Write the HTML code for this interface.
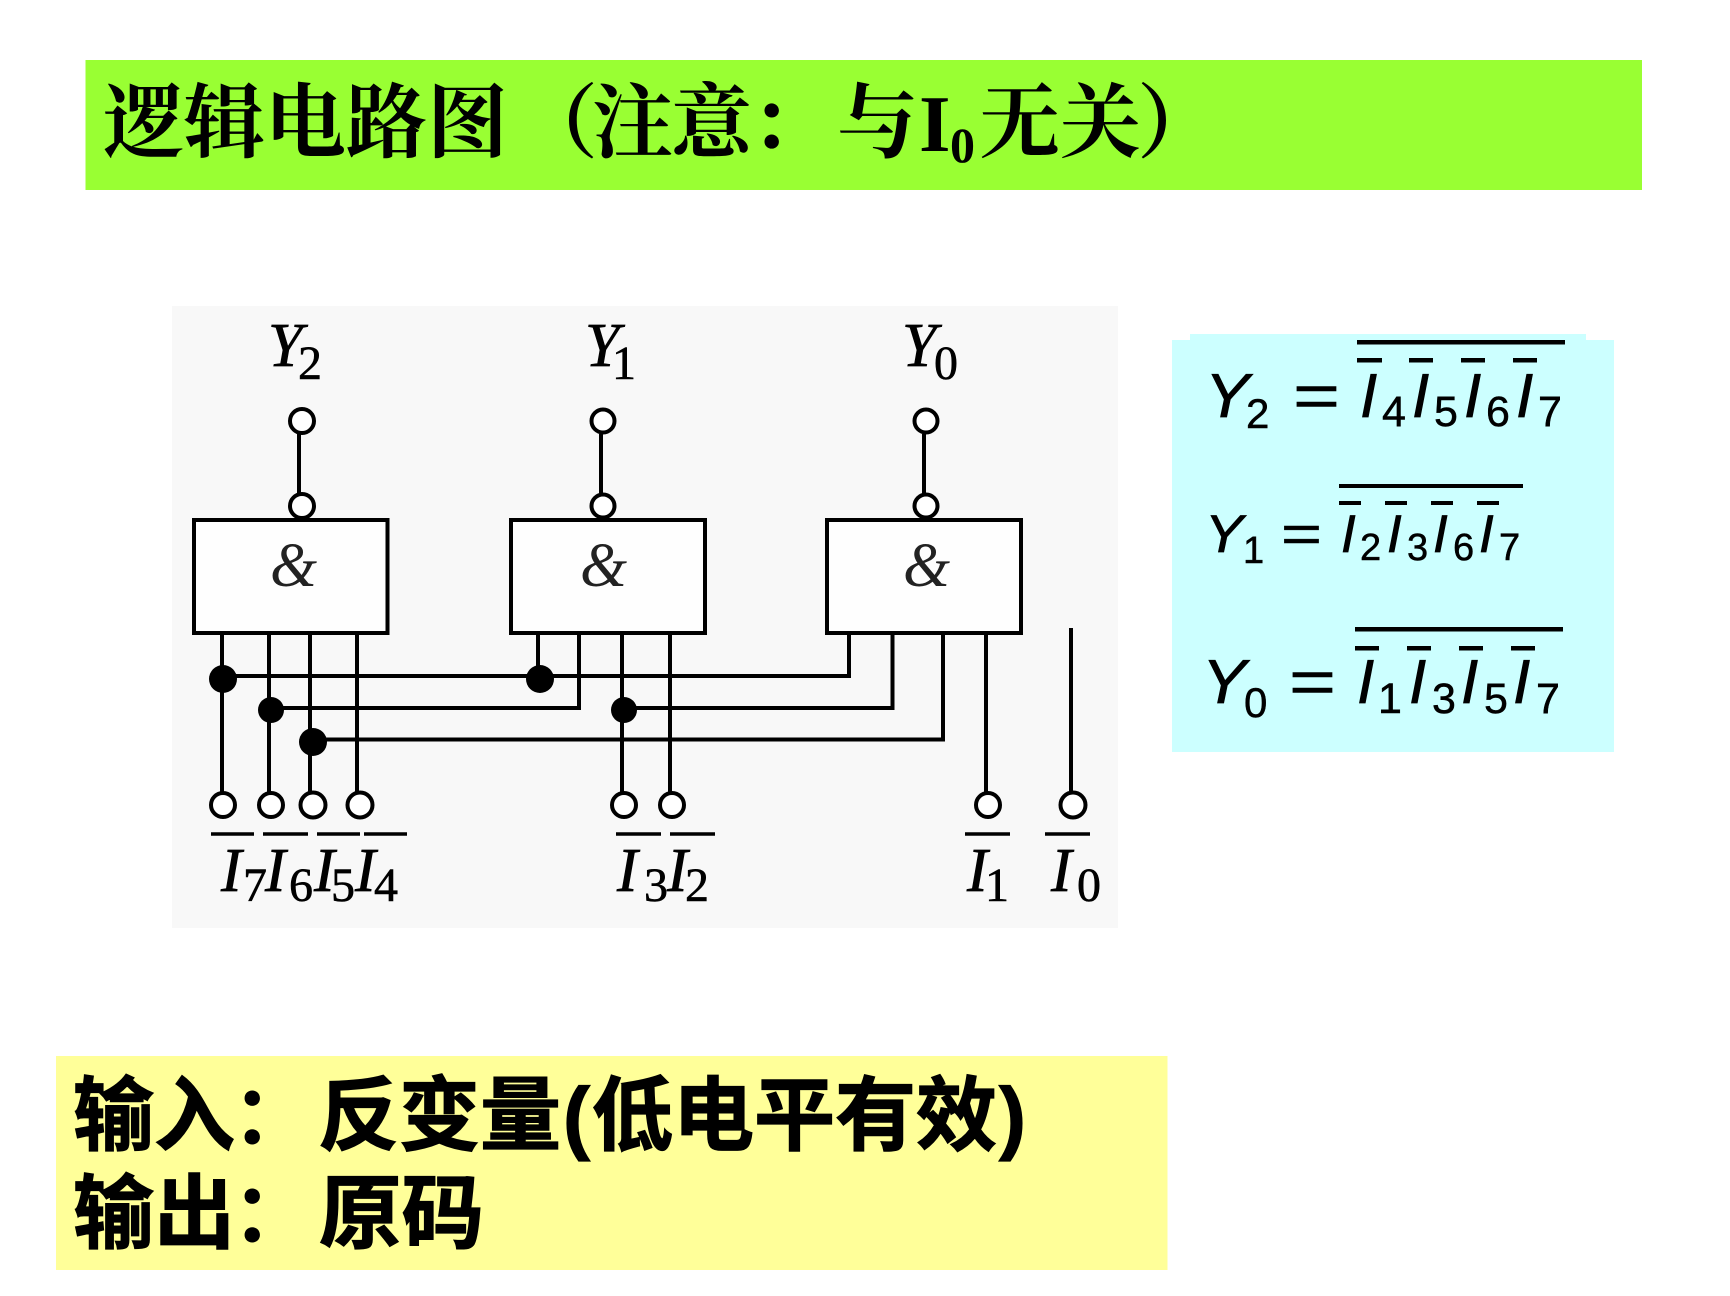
<!DOCTYPE html>
<html><head><meta charset="utf-8"><style>
html,body{margin:0;padding:0;background:#fff;width:1730px;height:1296px;overflow:hidden}
svg{display:block}
.t{font-family:"Liberation Serif","Noto Serif CJK SC",serif;font-weight:700;font-size:81px}
.b{font-family:"Liberation Sans","Noto Sans CJK SC",sans-serif;font-weight:700;font-size:81px;stroke:#000;stroke-width:1.2px}
.si{font-family:"Liberation Serif",serif;font-style:italic;font-size:62px;stroke:#000;stroke-width:.7px}
.sd{font-family:"Liberation Serif",serif;font-size:48px;stroke:#000;stroke-width:.6px}
.amp{font-family:"Liberation Serif",serif;font-style:italic;font-size:62px;fill:#222}
.fi{font-family:"Liberation Sans",sans-serif;font-style:italic;stroke:#000;stroke-width:.7px}
.fd{font-family:"Liberation Sans",sans-serif;stroke:#000;stroke-width:.5px}
</style></head><body>
<svg width="1730" height="1296" viewBox="0 0 1730 1296" xmlns="http://www.w3.org/2000/svg">
<rect width="1730" height="1296" fill="#fff"/>
<rect x="85.500" y="60" width="1556.500" height="130" fill="#99ff33"/>
<text class="t" y="151" x="103 184 265 346 427">逻辑电路图</text>
<text class="t" y="151" x="517">（</text>
<text class="t" y="151" x="592">注</text>
<text class="t" y="151" x="671">意</text>
<text class="t" y="151" x="750">：</text>
<text class="t" y="151" x="837">与</text>
<text class="t" y="151" x="919">I</text>
<text y="162" x="950" style="font-family:'Liberation Serif',serif;font-weight:700;font-size:50px">0</text>
<text class="t" y="151" x="979">无</text>
<text class="t" y="151" x="1060">关</text>
<text class="t" y="151" x="1137">）</text>

<rect x="172" y="306" width="946" height="622" fill="#f8f8f8"/>
<g stroke="#000" stroke-width="4" fill="none">
<path d="M299 434V495M601 434V495M924 434V495"/>
<path d="M222 634V795M269 634V795M310 634V795M357 634V795"/>
<path d="M538 634V679M579 634V708M622 634V795M670 634V795"/>
<path d="M849 634V676M892.500 634V708M943 634V739.500M986 634V795M1071 628V795"/>
<path d="M223 676H851M271 708H581M624 708H894.500M313 739.500H945"/>
</g>
<g fill="#fff" stroke="#000" stroke-width="4">
<circle cx="302" cy="421" r="12"/><circle cx="603" cy="421" r="11.500"/><circle cx="926" cy="421" r="11.500"/>
<circle cx="302" cy="506" r="12"/><circle cx="603" cy="506" r="11.500"/><circle cx="926" cy="506" r="11.500"/>
<circle cx="223" cy="805" r="12"/><circle cx="271" cy="805" r="12"/><circle cx="313" cy="805" r="12.500"/><circle cx="360" cy="805" r="12.500"/>
<circle cx="624" cy="805" r="12"/><circle cx="672" cy="805" r="12"/><circle cx="988" cy="805" r="12"/><circle cx="1073" cy="805" r="12.500"/>
</g>
<g fill="#fefefe" stroke="#000" stroke-width="4">
<rect x="194" y="520" width="193.500" height="113"/>
<rect x="511" y="520" width="194" height="113"/>
<rect x="827" y="520" width="194" height="113"/>
</g>
<g fill="#000">
<circle cx="223" cy="679" r="14"/><circle cx="271" cy="710" r="13"/><circle cx="313" cy="742" r="14"/><circle cx="540" cy="679" r="14"/><circle cx="624" cy="710" r="13"/>
</g>
<g stroke="#000" stroke-width="3.500" fill="none">
<path d="M211 834H254M263 834H308M317 834H360M364 834H407M616 834H661M670 834H715M965 834H1010M1045 834H1090"/>
</g>
<text class="amp" x="270" y="586" textLength="47" lengthAdjust="spacingAndGlyphs">&amp;</text>
<text class="amp" x="580" y="586" textLength="47" lengthAdjust="spacingAndGlyphs">&amp;</text>
<text class="amp" x="903" y="586" textLength="47" lengthAdjust="spacingAndGlyphs">&amp;</text>

<text class="si" x="268" y="366">Y</text><text class="sd" x="298" y="379">2</text>
<text class="si" x="585" y="366">Y</text><text class="sd" x="612" y="379">1</text>
<text class="si" x="902" y="366">Y</text><text class="sd" x="934" y="379">0</text>

<text class="si" x="221" y="891">I</text><text class="sd" x="243" y="901">7</text>
<text class="si" x="265" y="891">I</text><text class="sd" x="289" y="901">6</text>
<text class="si" x="314" y="891">I</text><text class="sd" x="331" y="901">5</text>
<text class="si" x="355" y="891">I</text><text class="sd" x="374" y="901">4</text>
<text class="si" x="617" y="891">I</text><text class="sd" x="644" y="901">3</text>
<text class="si" x="667" y="891">I</text><text class="sd" x="685" y="901">2</text>
<text class="si" x="967" y="891">I</text><text class="sd" x="985" y="901">1</text>
<text class="si" x="1051" y="891">I</text><text class="sd" x="1077" y="901">0</text>

<rect x="1172" y="340" width="442" height="412" fill="#ccffff"/>
<rect x="1190" y="334" width="396" height="6" fill="#ccffff"/>
<g fill="#000">
<rect x="1357" y="340" width="208" height="4.500"/>
<rect x="1357" y="358" width="25" height="4.500"/><rect x="1409" y="358" width="24" height="4.500"/><rect x="1461" y="358" width="24" height="4.500"/><rect x="1513" y="358" width="24" height="4.500"/>
<rect x="1339" y="484" width="184" height="4"/>
<rect x="1339" y="501" width="22" height="4"/><rect x="1385" y="501" width="22" height="4"/><rect x="1431" y="501" width="22" height="4"/><rect x="1477" y="501" width="22" height="4"/>
<rect x="1355" y="627" width="208" height="4.500"/>
<rect x="1355" y="646" width="24" height="4.500"/><rect x="1407" y="646" width="24" height="4.500"/><rect x="1459" y="646" width="24" height="4.500"/><rect x="1511" y="646" width="24" height="4.500"/>
</g>
<g style="font-size:62px">
<text class="fi" x="1205" y="417" textLength="44" lengthAdjust="spacingAndGlyphs">Y</text>
<text class="fd" x="1246" y="428" style="font-size:42px">2</text>
<text class="fd" x="1293" y="417" textLength="47" lengthAdjust="spacingAndGlyphs">=</text>
<text class="fi" x="1360" y="417">I</text><text class="fd" x="1382" y="426" style="font-size:43px">4</text>
<text class="fi" x="1412" y="417">I</text><text class="fd" x="1434" y="426" style="font-size:43px">5</text>
<text class="fi" x="1464" y="417">I</text><text class="fd" x="1486" y="426" style="font-size:43px">6</text>
<text class="fi" x="1516" y="417">I</text><text class="fd" x="1538" y="426" style="font-size:43px">7</text>
</g>
<g style="font-size:53px">
<text class="fi" x="1205" y="552" textLength="38" lengthAdjust="spacingAndGlyphs">Y</text>
<text class="fd" x="1243" y="563" style="font-size:38px">1</text>
<text class="fd" x="1281" y="552" textLength="41" lengthAdjust="spacingAndGlyphs">=</text>
<text class="fi" x="1341" y="552">I</text><text class="fd" x="1360" y="560" style="font-size:38px">2</text>
<text class="fi" x="1387" y="552">I</text><text class="fd" x="1407" y="560" style="font-size:38px">3</text>
<text class="fi" x="1433" y="552">I</text><text class="fd" x="1453" y="560" style="font-size:38px">6</text>
<text class="fi" x="1479" y="552">I</text><text class="fd" x="1499" y="560" style="font-size:38px">7</text>
</g>
<g style="font-size:62px">
<text class="fi" x="1202" y="703" textLength="44" lengthAdjust="spacingAndGlyphs">Y</text>
<text class="fd" x="1244" y="717" style="font-size:42px">0</text>
<text class="fd" x="1289" y="703" textLength="47" lengthAdjust="spacingAndGlyphs">=</text>
<text class="fi" x="1357" y="703">I</text><text class="fd" x="1378" y="713" style="font-size:43px">1</text>
<text class="fi" x="1409" y="703">I</text><text class="fd" x="1432" y="713" style="font-size:43px">3</text>
<text class="fi" x="1461" y="703">I</text><text class="fd" x="1484" y="713" style="font-size:43px">5</text>
<text class="fi" x="1513" y="703">I</text><text class="fd" x="1536" y="713" style="font-size:43px">7</text>
</g>

<rect x="56" y="1056" width="1111.500" height="214" fill="#ffff99"/>
<text class="b" x="73" y="1144">输入</text>
<text class="b" x="232" y="1144" style="stroke-width:0">：</text>
<text class="b" x="318" y="1144">反变量</text>
<text class="b" x="563" y="1144">(</text>
<text class="b" x="592" y="1144">低电平有效</text>
<text class="b" x="999" y="1144">)</text>
<text class="b" x="73" y="1242">输出</text>
<text class="b" x="232" y="1242" style="stroke-width:0">：</text>
<text class="b" x="319" y="1242" textLength="165" lengthAdjust="spacingAndGlyphs">原码</text>
</svg>
</body></html>
